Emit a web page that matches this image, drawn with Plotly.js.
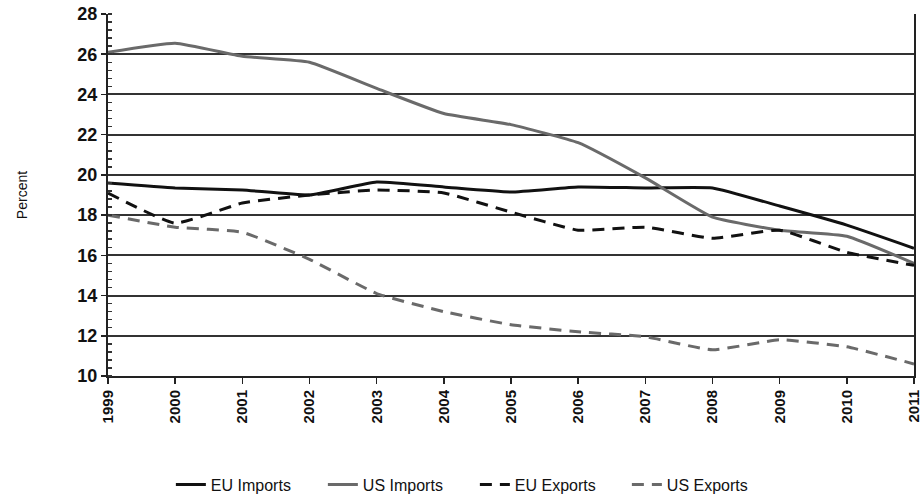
<!DOCTYPE html>
<html>
<head>
<meta charset="utf-8">
<script src="https://cdn.plot.ly/plotly-3.0.1.min.js"></script>
<style>html,body{margin:0;padding:0;background:#fff;}#chart{width:921px;height:495px;}</style>
</head>
<body>
<div id="chart"></div>
<script>
const years = [1999,2000,2001,2002,2003,2004,2005,2006,2007,2008,2009,2010,2011];
const euImports = [19.6,19.35,19.25,19.0,19.65,19.4,19.15,19.4,19.35,19.35,18.45,17.5,16.35];
const usImports = [26.1,26.55,25.9,25.6,24.3,23.05,22.5,21.6,19.85,17.9,17.25,16.95,15.6];
const euExports = [19.1,17.6,18.6,19.0,19.25,19.1,18.15,17.25,17.4,16.85,17.25,16.15,15.5];
const usExports = [18.0,17.4,17.15,15.8,14.1,13.2,12.55,12.2,11.95,11.3,11.8,11.45,10.6];
const seriesNames = ['EU Imports','US Imports','EU Exports','US Exports'];
const yTicks = [10,12,14,16,18,20,22,24,26,28];

const FONT = '"Liberation Sans Narrow", "Arial Narrow", "Liberation Sans", Arial, sans-serif';
const black = '#111111', gray = '#6a6a6a';
function tr(y, name, color, dash) {
  return {x: years, y: y, name: name, type: 'scatter', mode: 'lines',
    line: {color: color, width: 3, dash: dash, shape: 'spline', smoothing: 0.4}};
}
const data = [
  tr(euImports, seriesNames[0], black, 'solid'),
  tr(usImports, seriesNames[1], gray, 'solid'),
  tr(euExports, seriesNames[2], black, '12px,8px'),
  tr(usExports, seriesNames[3], gray, '12px,8px')
];
const layout = {
  width: 921, height: 495,
  margin: {l: 108, r: 7, t: 14, b: 119, autoexpand: false},
  paper_bgcolor: '#fff', plot_bgcolor: '#fff',
  showlegend: true,
  legend: {orientation: 'h', x: 0.078, xanchor: 'left', y: -0.30, yanchor: 'middle',
    entrywidth: 107, entrywidthmode: 'pixels',
    font: {family: FONT, size: 16, color: '#111'}, itemwidth: 30, tracegroupgap: 0},
  xaxis: {range: [1999, 2011], tickvals: years, ticktext: years.map(String),
    tickangle: -90, ticks: 'outside', ticklen: 6, tickcolor: '#222', tickwidth: 1.5,
    showline: true, linecolor: '#222', linewidth: 2, showgrid: false, zeroline: false,
    automargin: false, ticklabeloverflow: 'allow',
    tickfont: {family: FONT, size: 15, color: '#111', weight: 'bold'}},
  yaxis: {range: [10, 28], tickvals: yTicks, ticks: 'outside', ticklen: 5, tickcolor: '#222', tickwidth: 1.5,
    showline: true, mirror: true, linecolor: '#222', linewidth: 2,
    showgrid: true, gridcolor: '#333', gridwidth: 2, zeroline: false,
    automargin: false, ticklabeloverflow: 'allow',
    minor: {dtick: 0.4, ticks: 'inside', ticklen: 4, tickcolor: '#333', showgrid: false},
    tickfont: {family: FONT, size: 18, color: '#111', weight: 'bold'},
    title: {text: 'Percent', standoff: 46, font: {family: '"Liberation Sans", Arial, sans-serif', size: 14, color: '#111'}}}
};
Plotly.newPlot('chart', data, layout, {displayModeBar: false, staticPlot: true});
</script>
</body>
</html>
